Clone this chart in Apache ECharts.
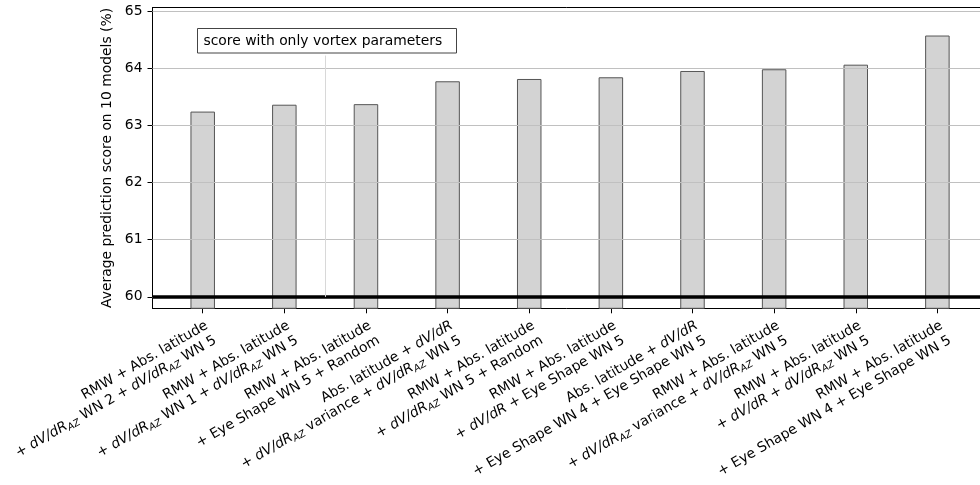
<!DOCTYPE html>
<html><head><meta charset="utf-8">
<script src="https://cdn.jsdelivr.net/npm/echarts@6/dist/echarts.min.js"></script>
<style>html,body{margin:0;padding:0;background:#fff}#c{width:980px;height:485px}</style>
</head><body><div id="c"></div>
<script>
const categories = [
  "RMW + Abs. latitude\n+ dV/dR_AZ WN 2 + dV/dR_AZ WN 5",
  "RMW + Abs. latitude\n+ dV/dR_AZ WN 1 + dV/dR_AZ WN 5",
  "RMW + Abs. latitude\n+ Eye Shape WN 5 + Random",
  "Abs. latitude + dV/dR\n+ dV/dR_AZ variance + dV/dR_AZ WN 5",
  "RMW + Abs. latitude\n+ dV/dR_AZ WN 5 + Random",
  "RMW + Abs. latitude\n+ dV/dR + Eye Shape WN 5",
  "Abs. latitude + dV/dR\n+ Eye Shape WN 4 + Eye Shape WN 5",
  "RMW + Abs. latitude\n+ dV/dR_AZ variance + dV/dR_AZ WN 5",
  "RMW + Abs. latitude\n+ dV/dR + dV/dR_AZ WN 5",
  "RMW + Abs. latitude\n+ Eye Shape WN 4 + Eye Shape WN 5"
];
const scores = [63.24, 63.36, 63.37, 63.77, 63.81, 63.84, 63.95, 63.98, 64.06, 64.57];
const yTicks = [60, 61, 62, 63, 64, 65];
const baselineScore = 60;
const separatorPosition = 1.5;
const legendText = "score with only vortex parameters";
const yAxisTitle = "Average prediction score on 10 models (%)";

const FONT = '"DejaVu Sans", sans-serif';
const FS = 13.9;
const catIdx = categories.map((_, i) => i);
const X_MIN = -0.615, X_MAX = 9.522;

function toRich(s) {
  return s.split('dV/dR_AZ')
    .map(p => p.split('dV/dR').join('{i|dV/dR}'))
    .join('{i|dV/dR}{s|AZ}');
}

const chart = echarts.init(document.getElementById('c'), null, {renderer: 'canvas'});
chart.setOption({
  animation: false,
  backgroundColor: '#fff',
  grid: {left: 152.5, right: 0, top: 7.5, bottom: 176.7, containLabel: false},
  xAxis: [{
    type: 'value', min: X_MIN, max: X_MAX, position: 'bottom',
    axisLine: {show: true, onZero: false, lineStyle: {color: '#000', width: 1}},
    axisTick: {show: true, customValues: catIdx, length: 5, lineStyle: {color: '#000', width: 1}},
    axisLabel: {
      show: true, customValues: catIdx, rotate: 30, align: 'right', verticalAlign: 'top',
      margin: 9, fontFamily: FONT, fontSize: FS, color: '#000', lineHeight: 17,
      formatter: v => toRich(categories[Math.round(v)] || ''),
      rich: {
        i: {fontFamily: FONT, fontSize: FS, fontStyle: 'italic', color: '#000', lineHeight: 17},
        s: {fontFamily: FONT, fontSize: 9.7, fontStyle: 'italic', color: '#000', verticalAlign: 'bottom'}
      }
    },
    splitLine: {show: false}
  }, {
    type: 'value', min: X_MIN, max: X_MAX, position: 'top',
    axisLine: {show: true, onZero: false, lineStyle: {color: '#000', width: 1}},
    axisTick: {show: false}, axisLabel: {show: false}, splitLine: {show: false}
  }],
  yAxis: {
    type: 'value', min: 59.8, max: 65.06,
    axisLine: {show: true, onZero: false, lineStyle: {color: '#000', width: 1}},
    axisTick: {show: true, customValues: yTicks, length: 5, lineStyle: {color: '#000', width: 1}},
    axisLabel: {show: true, customValues: yTicks, margin: 10, fontFamily: FONT, fontSize: FS, color: '#000'},
    splitLine: {show: false},
    name: yAxisTitle, nameLocation: 'middle', nameGap: 32,
    nameTextStyle: {fontFamily: FONT, fontSize: FS, color: '#000'}
  },
  series: [{
    type: 'bar', xAxisIndex: 0, z: 2,
    data: scores.map((v, i) => [i, v]),
    barWidth: 24.5,
    itemStyle: {color: '#d3d3d3', borderColor: '#555', borderWidth: 1}
  }, {
    type: 'line', xAxisIndex: 0, z: 5, data: [], showSymbol: false,
    markLine: {
      silent: true, symbol: ['none', 'none'], label: {show: false}, animation: false,
      data: yTicks.map(v => ({yAxis: v, lineStyle: {color: '#c0c0c0', width: 1.2, type: 'solid'}}))
        .concat([
          {yAxis: baselineScore, lineStyle: {color: '#000', width: 3.6, type: 'solid'}},
          [{coord: [separatorPosition, baselineScore], lineStyle: {color: '#d8d8d8', width: 1, type: 'solid'}},
           {coord: [separatorPosition, 64.22]}]
        ])
    }
  }],
  graphic: [{
    type: 'group', left: 197, top: 28, z: 100,
    children: [
      {type: 'rect', z: 100, shape: {x: 0, y: 0, width: 259, height: 24.5},
       style: {fill: '#fff', stroke: '#444', lineWidth: 1}},
      {type: 'text', z: 101, style: {text: legendText, x: 6, y: 12.5, verticalAlign: 'middle',
       font: FS + 'px ' + FONT, fill: '#000'}}
    ]
  }]
});
</script></body></html>
